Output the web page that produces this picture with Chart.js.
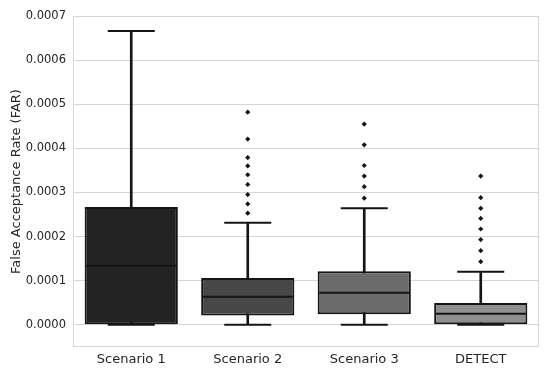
<!DOCTYPE html>
<html>
<head>
<meta charset="utf-8">
<script src="https://cdn.jsdelivr.net/npm/chart.js@4/dist/chart.umd.min.js"></script>
<style>
    html, body { margin: 0; padding: 0; background: #fff; }
    #wrap { width: 550px; height: 374px; }
</style>
</head>
<body>
<div id="wrap"><canvas id="c"></canvas></div>
<script>
// data
var categories = ['Scenario 1', 'Scenario 2', 'Scenario 3', 'DETECT'];
var whiskerLow = [0, 0, 0, 0];
var q1 = [0, 0.000021, 0.000024, 0];
var median = [0.000134, 0.0000635, 0.0000725, 0.000025];
var q3 = [0.000267, 0.000106, 0.000121, 0.000049];
var whiskerHigh = [0.000666, 0.000231, 0.000264, 0.00012];
var outliers1 = [];
var outliers2 = [0.000482, 0.000421, 0.000379, 0.00036, 0.00034, 0.000318, 0.000295, 0.000274, 0.000253];
var outliers3 = [0.000455, 0.000408, 0.000361, 0.000337, 0.000313, 0.000287];
var outliers4 = [0.000337, 0.000288, 0.000264, 0.000241, 0.000217, 0.000193, 0.000168, 0.000143];
var yTicks = [0, 0.0001, 0.0002, 0.0003, 0.0004, 0.0005, 0.0006, 0.0007];

var boxColors = ['#232323', '#474747', '#6b6b6b', '#8f8f8f'];
var lineColor = '#151515';
var gridColor = '#d6d6d6';
var textColor = '#262626';

/**
 * points for a category, eg: pts('DETECT', [1, 2]) -> [{x: 'DETECT', y: 1}, ...]
 */
function pts(cat, arr) {
    return arr.map(function(v) { return {x: cat, y: v}; });
}

var outlierPoints = []
    .concat(pts(categories[0], outliers1))
    .concat(pts(categories[1], outliers2))
    .concat(pts(categories[2], outliers3))
    .concat(pts(categories[3], outliers4));

var capPoints = [];
for(var i = 0; i < categories.length; i++) {
    capPoints.push({x: categories[i], y: whiskerHigh[i]});
    capPoints.push({x: categories[i], y: whiskerLow[i]});
}

// light frame round the plot, like the seaborn spines
var framePlugin = {
    id: 'frame',
    beforeDatasetsDraw: function(chart) {
        var a = chart.chartArea, ctx = chart.ctx;
        ctx.save();
        ctx.strokeStyle = gridColor;
        ctx.lineWidth = 1;
        ctx.strokeRect(a.left + 0.5, a.top + 0.5, a.right - a.left - 1, a.bottom - a.top - 1);
        ctx.restore();
    }
};

Chart.defaults.font.family = '"DejaVu Sans", sans-serif';
Chart.defaults.color = textColor;

new Chart(document.getElementById('c'), {
    type: 'bar',
    data: {
        labels: categories,
        datasets: [{
            // whiskers, drawn behind the boxes
            type: 'bar',
            data: categories.map(function(c, i) { return [whiskerLow[i], whiskerHigh[i]]; }),
            backgroundColor: lineColor,
            barThickness: 2,
            grouped: false,
            order: 3,
        }, {
            type: 'bar',
            data: categories.map(function(c, i) { return [q1[i], q3[i]]; }),
            backgroundColor: boxColors,
            borderColor: lineColor,
            borderWidth: 2,
            borderSkipped: false,
            barPercentage: 0.8,
            categoryPercentage: 1.0,
            grouped: false,
            order: 2,
        }, {
            // medians
            type: 'line',
            data: median,
            showLine: false,
            pointStyle: 'line',
            pointRadius: 45,
            pointBorderWidth: 2,
            pointBorderColor: lineColor,
            order: 1,
        }, {
            // whisker caps
            type: 'line',
            data: capPoints,
            showLine: false,
            pointStyle: 'line',
            pointRadius: 23.5,
            pointBorderWidth: 2,
            pointBorderColor: lineColor,
            order: 1,
        }, {
            type: 'line',
            data: outlierPoints,
            showLine: false,
            pointStyle: 'rectRot',
            pointRadius: 2.6,
            pointBorderWidth: 0,
            pointBackgroundColor: lineColor,
            order: 0,
        }],
    },
    options: {
        responsive: true,
        maintainAspectRatio: false,
        animation: false,
        events: [],
        layout: {autoPadding: false, padding: {left: 5, right: 11, top: 16, bottom: 0}},
        plugins: {legend: {display: false}, tooltip: {enabled: false}},
        scales: {
            x: {
                grid: {display: false, drawTicks: false},
                border: {display: false},
                ticks: {font: {size: 13}, padding: 5, color: textColor},
                afterFit: function(s) { s.height = 27; },
            },
            y: {
                min: -0.0000505,
                max: 0.0007,
                afterBuildTicks: function(s) {
                    s.ticks = yTicks.map(function(v) { return {value: v}; });
                },
                grid: {color: gridColor, drawTicks: false},
                border: {display: false},
                ticks: {
                    font: {size: 11.5},
                    padding: 7,
                    color: textColor,
                    callback: function(v) { return Number(v).toFixed(4); },
                },
                title: {
                    display: true,
                    text: 'False Acceptance Rate (FAR)',
                    font: {size: 13},
                    color: textColor,
                    padding: {top: 4, bottom: 4},
                },
                afterFit: function(s) { s.width = 68; },
            },
        },
    },
    plugins: [framePlugin],
});
</script>
</body>
</html>
